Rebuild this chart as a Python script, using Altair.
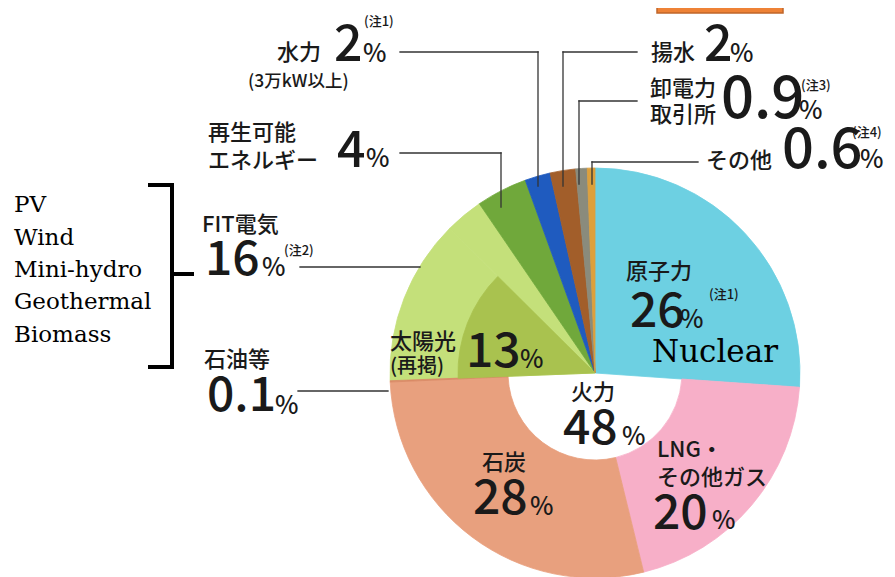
import altair as alt
import pandas as pd

# ---------------- data ----------------
slice_names = ["原子力", "LNG・その他ガス", "石炭", "石油等", "太陽光(再掲)", "FIT電気(太陽光以外)",
               "再生可能エネルギー", "水力", "揚水", "卸電力取引所", "その他"]
fit_total = 16
solar_share = 13
slice_values = [26, 20, 28, 0.1, solar_share, fit_total - solar_share, 4, 2, 2, 0.9, 0.6]
ring_group = ["原子力", "LNG", "石炭", "石油等", "FIT電気", "FIT電気",
              "再生可能エネルギー", "水力", "揚水", "卸電力取引所", "その他"]
is_thermal = [False, True, True, True, False, False, False, False, False, False, False]

ring_domain = ["原子力", "LNG", "石炭", "石油等", "FIT電気", "再生可能エネルギー", "水力", "揚水", "卸電力取引所", "その他"]
ring_colors = ["#6DD0E2", "#F7AFC8", "#E8A07E", "#D98A66", "#C4E07A", "#70A83B", "#1F5BBF", "#A25E2A", "#8A8B7C", "#DDA03C"]
solar_color = "#A9C24F"

# ---------------- layout (page pixels) ----------------
OFF = 8
CX, CY = 595 - OFF, 373 - OFF
R_OUT, R_HOLE, R_SOLAR = 205, 87, 137

jp_labels = [
    ("(注1)", 364, 22, 13), ("水力", 277, 53, 22), ("2", 334, 46, 50), ("%", 363, 54, 25),
    ("(3万kW以上)", 248, 82, 17.5),
    ("再生可能", 208, 133, 22), ("エネルギー", 208, 161, 22), ("4", 337, 152, 50), ("%", 366, 159, 25),
    ("揚水", 651, 53, 22), ("2", 704, 46, 50), ("%", 730, 54, 25),
    ("卸電力", 650, 89, 22), ("取引所", 650, 115, 22), ("0.9", 721, 101, 58), ("%", 799, 111, 25),
    ("(注3)", 801, 86, 13),
    ("その他", 706, 161, 22), ("0.6", 782, 151, 56), ("%", 860, 160, 25), ("(注4)", 852, 133, 13),
    ("FIT電気", 202, 225, 22), ("16", 205, 261, 48), ("%", 262, 268, 25), ("(注2)", 284, 251, 13),
    ("石油等", 204, 360, 22), ("0.1", 207, 397, 48), ("%", 275, 406, 25),
    ("原子力", 626, 272, 22), ("26", 630, 313, 48), ("%", 680, 320, 25), ("(注1)", 709, 295, 13),
    ("太陽光", 390, 342, 22), ("(再掲)", 390, 367, 20), ("13", 466, 353, 48), ("%", 520, 360, 25),
    ("火力", 571, 393, 22), ("48", 563, 430, 48), ("%", 622, 437, 25),
    ("石炭", 482, 463, 22), ("28", 473, 500, 48), ("%", 530, 507, 25),
    ("LNG・", 657, 450, 22), ("その他ガス", 657, 478, 22), ("20", 653, 515, 48), ("%", 712, 521, 25),
]
en_labels = [
    ("PV", 14, 205, 23), ("Wind", 14, 238, 23), ("Mini-hydro", 14, 270, 23),
    ("Geothermal", 14, 302, 23), ("Biomass", 14, 335, 23), ("Nuclear", 652, 353, 31),
]
leaders = [
    (400, 52, 538, 52), (538, 52, 538, 186),
    (563, 52, 637, 52), (563, 52, 563, 186),
    (579, 101, 637, 101), (579, 101, 579, 184),
    (592, 162, 698, 162), (592, 162, 592, 184),
    (400, 153, 501, 153), (501, 153, 501, 207),
    (300, 267, 420, 267),
    (298, 391, 388, 391),
]
bracket = [
    (150, 185, 172, 185), (172, 185, 172, 367), (150, 367, 172, 367), (172, 274, 192, 274),
]


def text_df(rows):
    return pd.DataFrame({"text": [r[0] for r in rows], "x": [r[1] - OFF for r in rows],
                         "y": [r[2] - OFF for r in rows], "size": [r[3] for r in rows]})


def seg_df(rows):
    return pd.DataFrame({"x1": [r[0] - OFF for r in rows], "y1": [r[1] - OFF for r in rows],
                         "x2": [r[2] - OFF for r in rows], "y2": [r[3] - OFF for r in rows]})


pie_df = pd.DataFrame({"name": slice_names, "value": slice_values, "ring": ring_group,
                       "thermal": is_thermal, "order": list(range(len(slice_names)))})

base = (alt.Chart(pie_df)
        .transform_joinaggregate(total="sum(value)")
        .transform_window(cum="sum(value)", sort=[alt.SortField("order")], frame=[None, 0])
        .transform_calculate(t0="2*PI*(datum.cum-datum.value)/datum.total",
                             t1="2*PI*datum.cum/datum.total"))

pos = dict(theta=alt.Theta("t0:Q", scale=None), theta2=alt.Theta2("t1:Q"),
           x=alt.value(CX), y=alt.value(CY))
ring_scale = alt.Scale(domain=ring_domain, range=ring_colors)
color = alt.Color("ring:N", scale=ring_scale, legend=None)
stroke = alt.Stroke("ring:N", scale=ring_scale, legend=None)

outer = base.transform_filter("!datum.thermal").mark_arc(radius=R_OUT, strokeWidth=0.8).encode(
    color=color, stroke=stroke, **pos)
thermal = base.transform_filter("datum.thermal").mark_arc(radius=R_OUT, radius2=R_HOLE, strokeWidth=0.8).encode(
    color=color, stroke=stroke, **pos)
solar = base.transform_filter("datum.name === '太陽光(再掲)'").mark_arc(
    radius=R_SOLAR, color=solar_color, stroke=solar_color, strokeWidth=0.8).encode(**pos)

txt_enc = dict(x=alt.X("x:Q", scale=None, axis=None), y=alt.Y("y:Q", scale=None, axis=None),
               size=alt.Size("size:Q", scale=None, legend=None), text="text:N")
jp = alt.Chart(text_df(jp_labels)).mark_text(
    font="Noto Sans CJK JP", fontWeight=500, align="left", baseline="middle", color="#1a1a1a").encode(**txt_enc)
en = alt.Chart(text_df(en_labels)).mark_text(font="DejaVu Serif", align="left", baseline="middle",
                                               color="#000000").encode(**txt_enc)

seg_enc = dict(x=alt.X("x1:Q", scale=None, axis=None), y=alt.Y("y1:Q", scale=None, axis=None),
               x2="x2:Q", y2="y2:Q")
lead = alt.Chart(seg_df(leaders)).mark_rule(color="#333333", strokeWidth=1.3, strokeCap="square").encode(**seg_enc)
brk = alt.Chart(seg_df(bracket)).mark_rule(color="#000000", strokeWidth=4, strokeCap="square").encode(**seg_enc)

box = alt.Chart(pd.DataFrame({"k": [0]})).mark_rect(fill="#EE8236", stroke="#C0652A", strokeWidth=1.5).encode(
    x=alt.value(657 - OFF), x2=alt.value(783 - OFF), y=alt.value(-12), y2=alt.value(13 - OFF))

chart = alt.layer(outer, thermal, solar, lead, brk, jp, en, box).properties(
    width=879, height=569, padding=0, autosize=alt.AutoSizeParams(type="none")
).configure_view(stroke=None)

chart.save("out.html", embed_options={"renderer": "svg", "actions": False})
